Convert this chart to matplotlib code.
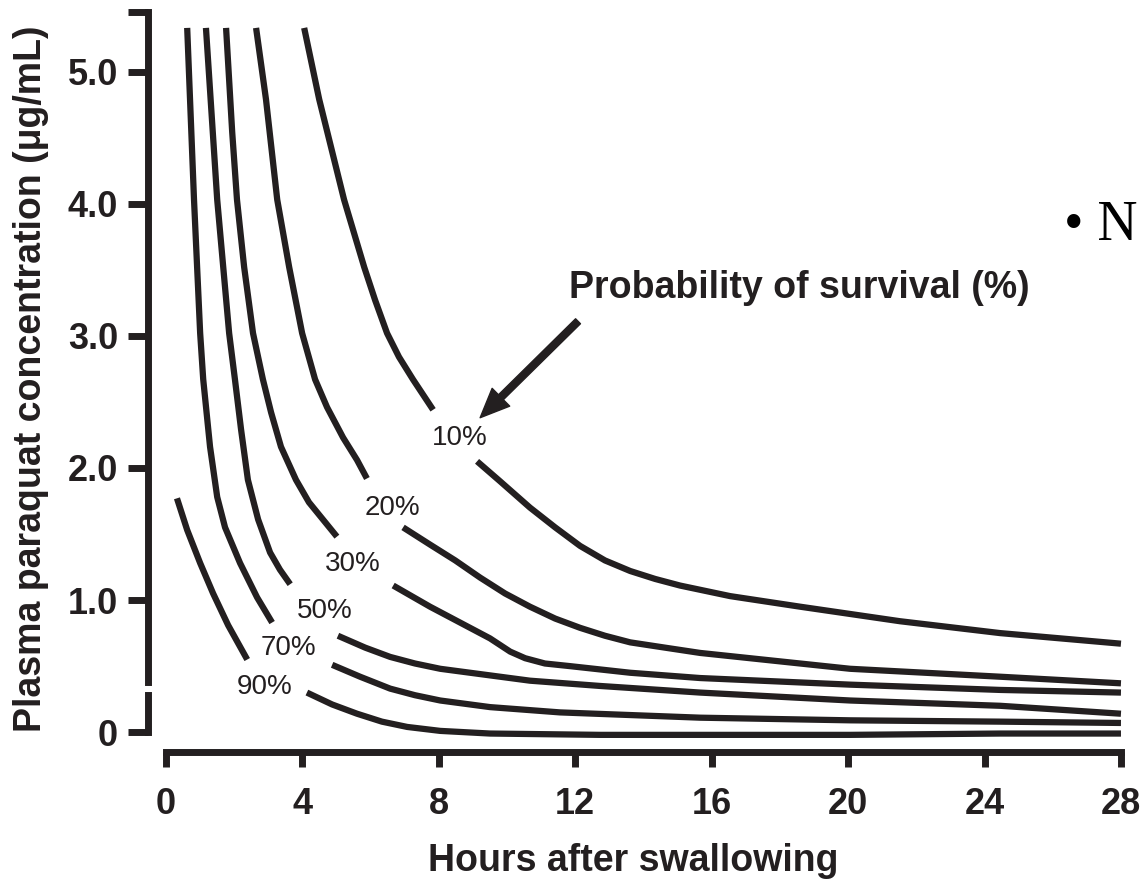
import numpy as np
import matplotlib.pyplot as plt

plt.rcParams['font.family'] = ['Liberation Sans', 'DejaVu Sans']
INK = '#231f20'

# survival curves (hours, ug/mL); nan = gap for the label
hours_90 = [0.32, 0.62, 1.00, 1.38, 1.82, 2.38, np.nan,
            4.13, 4.87, 5.60, 6.33, 7.07, 8.04, 9.50, 12.73, 15.66, 20.06, 24.46, 28.0]
conc_90 = [1.77, 1.53, 1.28, 1.05, 0.81, 0.55, np.nan,
           0.30, 0.21, 0.14, 0.08, 0.04, 0.01, -0.01, -0.02, -0.02, -0.02, -0.01, -0.01]

hours_70 = [0.62, 0.82, 1.00, 1.09, 1.29, 1.50, 1.73, 2.17, 2.67, 3.11, np.nan,
            4.87, 5.69, 6.57, 7.30, 8.04, 9.50, 11.55, 15.66, 20.06, 24.46, 28.0]
conc_70 = [5.33, 4.03, 3.02, 2.67, 2.16, 1.78, 1.55, 1.28, 1.02, 0.83, np.nan,
           0.51, 0.42, 0.33, 0.28, 0.24, 0.19, 0.15, 0.11, 0.09, 0.08, 0.07]

hours_50 = [1.17, 1.50, 1.85, 2.02, 2.20, 2.40, 2.70, 3.05, 3.34, 3.64, np.nan,
            5.04, 5.84, 6.57, 7.30, 8.04, 9.50, 10.67, 12.73, 15.66, 20.06, 24.46, 28.0]
conc_50 = [5.33, 4.03, 3.02, 2.67, 2.29, 1.91, 1.61, 1.36, 1.23, 1.12, np.nan,
           0.73, 0.64, 0.57, 0.52, 0.48, 0.43, 0.39, 0.35, 0.30, 0.24, 0.20, 0.14]

hours_30 = [1.76, 1.94, 2.08, 2.29, 2.55, 2.84, 3.08, 3.37, 3.81, 4.19, 4.60, 5.01, np.nan,
            6.66, 7.74, 8.62, 9.50, 10.09, 10.53, 11.11, 11.85, 13.61, 15.66, 20.06, 24.46, 28.0]
conc_30 = [5.33, 4.54, 4.03, 3.52, 3.02, 2.67, 2.42, 2.16, 1.91, 1.74, 1.61, 1.48, np.nan,
           1.11, 0.95, 0.83, 0.71, 0.61, 0.56, 0.52, 0.50, 0.45, 0.41, 0.36, 0.32, 0.30]

hours_20 = [2.64, 2.93, 3.26, 3.61, 3.99, 4.37, 4.72, 5.19, 5.60, 5.89, np.nan,
            6.95, 7.74, 8.48, 9.21, 9.94, 10.67, 11.41, 12.14, 12.87, 13.61, 14.63, 15.66,
            17.86, 20.06, 24.46, 28.0]
conc_20 = [5.33, 4.79, 4.03, 3.52, 3.02, 2.67, 2.46, 2.23, 2.06, 1.92, np.nan,
           1.55, 1.42, 1.30, 1.17, 1.05, 0.95, 0.86, 0.79, 0.73, 0.68, 0.64, 0.60,
           0.54, 0.48, 0.42, 0.37]

hours_10 = [4.05, 4.49, 5.22, 5.81, 6.13, 6.48, 6.83, 7.24, 7.83, np.nan,
            9.12, 9.79, 10.67, 11.41, 12.14, 12.87, 13.61, 14.34, 15.07, 16.54, 18.59,
            21.52, 24.46, 28.0]
conc_10 = [5.33, 4.79, 4.03, 3.52, 3.27, 3.02, 2.84, 2.67, 2.44, np.nan,
           2.05, 1.90, 1.70, 1.55, 1.41, 1.30, 1.22, 1.16, 1.11, 1.03, 0.95,
           0.84, 0.75, 0.67]

labels = ['90%', '70%', '50%', '30%', '20%', '10%']
label_hours = [2.90, 3.58, 4.66, 5.48, 6.63, 8.62]
label_conc = [0.34, 0.64, 0.92, 1.27, 1.70, 2.23]

xticks = [0, 4, 8, 12, 16, 20, 24, 28]
yticks = [0, 1, 2, 3, 4, 5]
ytick_labels = ['0', '1.0', '2.0', '3.0', '4.0', '5.0']

fig = plt.figure(figsize=(11.4, 8.86), dpi=100)
ax = fig.add_axes([0.1298, 0.1512, 0.8535, 0.8352])

curves = [(hours_90, conc_90), (hours_70, conc_70), (hours_50, conc_50),
          (hours_30, conc_30), (hours_20, conc_20), (hours_10, conc_10)]
for h, c in curves:
    ax.plot(h, c, color=INK, lw=4.5, solid_capstyle='butt', solid_joinstyle='round',
            clip_on=False)

for lab, h, c in zip(labels, label_hours, label_conc):
    ax.text(h, c, lab, ha='center', va='center', fontsize=20, color=INK)

ax.annotate('', xy=(9.21, 2.38), xytext=(12.08, 3.11),
            arrowprops=dict(arrowstyle='simple,head_length=1.05,head_width=0.9,tail_width=0.25',
                            mutation_scale=20, color=INK, shrinkA=0, shrinkB=0))
ax.text(18.56, 3.36, 'Probability of survival (%)', ha='center', va='center',
        fontsize=27, fontweight='bold', color=INK)

ax.set_xlim(-0.53, 28)
ax.set_ylim(-0.15, 5.45)

for s in ['top', 'right']:
    ax.spines[s].set_visible(False)
ax.spines['bottom'].set_bounds(0, 28)
ax.spines['left'].set_bounds(0.38, 5.45)
for s in ['bottom', 'left']:
    ax.spines[s].set_linewidth(5)
    ax.spines[s].set_color(INK)
# lower piece of the broken y axis
ax.plot([0, 0], [0, 0.28], transform=ax.get_yaxis_transform(), color=INK,
        lw=5, solid_capstyle='projecting', clip_on=False)

ax.set_xticks(xticks)
ax.set_xticklabels([str(t) for t in xticks], fontweight='bold')
ax.set_yticks(yticks + [5.45])
ax.set_yticklabels(ytick_labels + [''], fontweight='bold')
ax.tick_params(axis='y', length=14.4, width=5, pad=7, labelsize=26, color=INK, labelcolor=INK)
ax.tick_params(axis='x', length=11, width=5, pad=14, labelsize=26, color=INK, labelcolor=INK)

ax.set_xlabel('Hours after swallowing', fontsize=27, fontweight='bold', color=INK, va='center')
ax.set_ylabel('Plasma paraquat concentration (\u03bcg/mL)', fontsize=27, fontweight='bold',
              color=INK, va='center')
ax.xaxis.set_label_coords(0.5 * (428 + 838) / 973 - 148 / 973, -0.147)
ax.yaxis.set_label_coords(-0.120, 0.504)

fig.text(1064 / 1140, 1 - 226 / 886, '\u2022 N', fontsize=40, family=['Liberation Serif'],
         ha='left', va='center', color='black')

fig.savefig('out.png', dpi=100)
